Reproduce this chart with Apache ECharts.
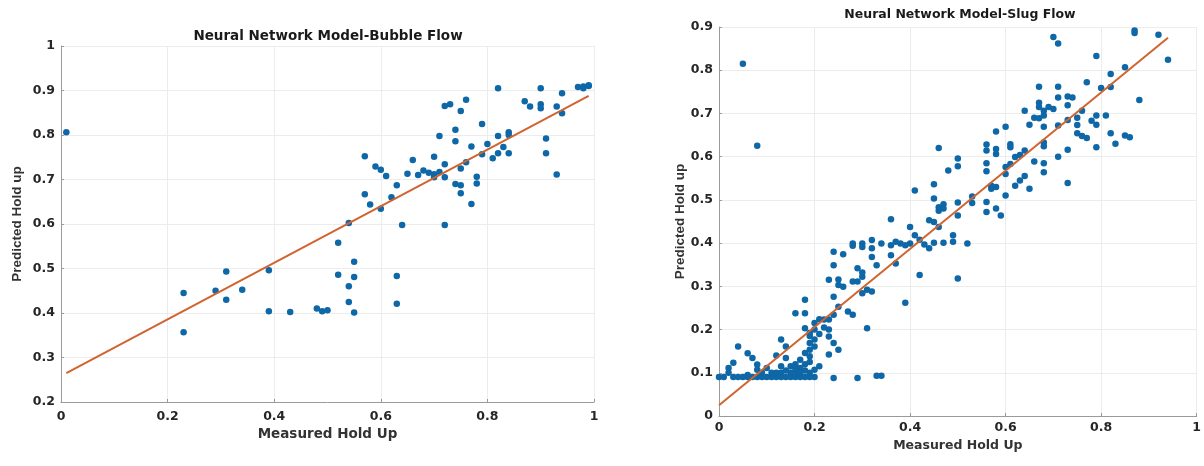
<!DOCTYPE html>
<html>
<head>
<meta charset="utf-8">
<title>Neural Network Model</title>
<script src="https://cdn.jsdelivr.net/npm/echarts@6/dist/echarts.min.js"></script>
<style>
  html, body { margin: 0; padding: 0; background: #fff; }
  #chart { width: 1204px; height: 466px; }
</style>
</head>
<body>
<div id="chart"></div>
<script>
// bubble flow: [measured, predicted]
var bubblePoints = [
  [0.01, 0.806], [0.23, 0.445], [0.23, 0.357], [0.29, 0.45], [0.31, 0.493], [0.31, 0.43],
  [0.34, 0.452], [0.39, 0.496], [0.39, 0.404], [0.43, 0.402], [0.48, 0.41], [0.49, 0.404],
  [0.50, 0.406], [0.52, 0.558], [0.52, 0.486], [0.54, 0.602], [0.54, 0.46], [0.54, 0.425],
  [0.55, 0.515], [0.55, 0.481], [0.55, 0.401], [0.57, 0.752], [0.57, 0.667], [0.58, 0.644],
  [0.59, 0.729], [0.60, 0.722], [0.60, 0.634], [0.61, 0.708], [0.62, 0.66], [0.63, 0.687],
  [0.63, 0.483], [0.63, 0.421], [0.64, 0.598], [0.65, 0.713], [0.66, 0.744], [0.67, 0.71],
  [0.68, 0.72], [0.69, 0.715], [0.70, 0.751], [0.70, 0.712], [0.70, 0.705], [0.71, 0.798],
  [0.71, 0.717], [0.72, 0.865], [0.73, 0.869], [0.72, 0.734], [0.72, 0.705], [0.72, 0.598],
  [0.74, 0.812], [0.74, 0.786], [0.74, 0.69], [0.75, 0.854], [0.75, 0.725], [0.75, 0.687],
  [0.75, 0.669], [0.76, 0.879], [0.76, 0.739], [0.77, 0.774], [0.77, 0.645], [0.78, 0.706],
  [0.78, 0.691], [0.79, 0.825], [0.79, 0.757], [0.80, 0.78], [0.81, 0.748], [0.82, 0.905],
  [0.82, 0.798], [0.82, 0.759], [0.83, 0.773], [0.84, 0.806], [0.84, 0.80], [0.84, 0.759],
  [0.87, 0.876], [0.88, 0.864], [0.90, 0.905], [0.90, 0.869], [0.90, 0.86], [0.91, 0.792],
  [0.91, 0.759], [0.93, 0.711], [0.93, 0.864], [0.94, 0.894], [0.94, 0.849], [0.97, 0.908],
  [0.98, 0.909], [0.98, 0.905], [0.99, 0.91], [0.99, 0.912]
]
var bubbleFit = [[0.01, 0.265], [0.99, 0.888]]

// slug flow: [measured, predicted]
var slugPoints = [
  [0.05, 0.815], [0.08, 0.625], [0.70, 0.877], [0.71, 0.862], [0.87, 0.892], [0.87, 0.886],
  [0.92, 0.882], [0.94, 0.824], [0.79, 0.833], [0.88, 0.731], [0.85, 0.807], [0.82, 0.791],
  [0.80, 0.759], [0.82, 0.761], [0.77, 0.772], [0.67, 0.762], [0.71, 0.762], [0.71, 0.737],
  [0.73, 0.739], [0.74, 0.737], [0.73, 0.719], [0.67, 0.725], [0.67, 0.715], [0.64, 0.706],
  [0.68, 0.706], [0.69, 0.715], [0.70, 0.71], [0.66, 0.69], [0.67, 0.689], [0.68, 0.695],
  [0.65, 0.674], [0.68, 0.669], [0.71, 0.672], [0.73, 0.685], [0.75, 0.69], [0.76, 0.706],
  [0.79, 0.695], [0.81, 0.695], [0.78, 0.683], [0.79, 0.674], [0.75, 0.673], [0.75, 0.654],
  [0.76, 0.648], [0.77, 0.643], [0.82, 0.654], [0.83, 0.63], [0.85, 0.649], [0.86, 0.645],
  [0.79, 0.622], [0.73, 0.616], [0.71, 0.60], [0.68, 0.633], [0.68, 0.624], [0.66, 0.589],
  [0.68, 0.585], [0.68, 0.564], [0.73, 0.539], [0.64, 0.614], [0.63, 0.604], [0.62, 0.599],
  [0.61, 0.622], [0.61, 0.629], [0.60, 0.669], [0.58, 0.658], [0.58, 0.618], [0.58, 0.606],
  [0.56, 0.614], [0.56, 0.628], [0.56, 0.585], [0.56, 0.566], [0.60, 0.576], [0.60, 0.56],
  [0.61, 0.583], [0.64, 0.555], [0.65, 0.526], [0.63, 0.545], [0.62, 0.533], [0.60, 0.51],
  [0.58, 0.53], [0.57, 0.533], [0.57, 0.526], [0.56, 0.495], [0.56, 0.472], [0.58, 0.48],
  [0.59, 0.464], [0.53, 0.508], [0.53, 0.493], [0.50, 0.596], [0.50, 0.578], [0.48, 0.568],
  [0.46, 0.62], [0.50, 0.494], [0.50, 0.464], [0.45, 0.536], [0.45, 0.503], [0.47, 0.49],
  [0.47, 0.48], [0.46, 0.483], [0.41, 0.522], [0.44, 0.453], [0.45, 0.449], [0.46, 0.437],
  [0.46, 0.475], [0.52, 0.399], [0.49, 0.418], [0.49, 0.403], [0.47, 0.401], [0.45, 0.401],
  [0.44, 0.388], [0.43, 0.397], [0.42, 0.408], [0.41, 0.418], [0.40, 0.437], [0.40, 0.399],
  [0.39, 0.395], [0.38, 0.399], [0.37, 0.403], [0.36, 0.395], [0.36, 0.455], [0.36, 0.372],
  [0.37, 0.353], [0.42, 0.326], [0.50, 0.318], [0.39, 0.262], [0.34, 0.399], [0.32, 0.407],
  [0.32, 0.388], [0.30, 0.391], [0.30, 0.399], [0.28, 0.399], [0.28, 0.394], [0.32, 0.368],
  [0.33, 0.349], [0.26, 0.374], [0.24, 0.38], [0.24, 0.349], [0.29, 0.342], [0.30, 0.322],
  [0.30, 0.332], [0.29, 0.311], [0.28, 0.311], [0.31, 0.292], [0.30, 0.284], [0.32, 0.288],
  [0.26, 0.299], [0.25, 0.316], [0.25, 0.303], [0.23, 0.315], [0.24, 0.276], [0.27, 0.242],
  [0.28, 0.234], [0.25, 0.253], [0.31, 0.203], [0.24, 0.234], [0.23, 0.223], [0.22, 0.223],
  [0.21, 0.224], [0.20, 0.215], [0.18, 0.203], [0.18, 0.269], [0.16, 0.238], [0.18, 0.238],
  [0.19, 0.192], [0.20, 0.177], [0.19, 0.153], [0.18, 0.146], [0.17, 0.13], [0.19, 0.138],
  [0.20, 0.161], [0.19, 0.169], [0.24, 0.169], [0.25, 0.153], [0.23, 0.142], [0.23, 0.184],
  [0.23, 0.20], [0.21, 0.115], [0.20, 0.107], [0.13, 0.177], [0.14, 0.161], [0.14, 0.134],
  [0.15, 0.115], [0.16, 0.107], [0.17, 0.111], [0.04, 0.161], [0.03, 0.123], [0.02, 0.111],
  [0.07, 0.134], [0.06, 0.145], [0.08, 0.119], [0.08, 0.107], [0.10, 0.111], [0.12, 0.10],
  [0.12, 0.14], [0.13, 0.115], [0.18, 0.12], [0.19, 0.125], [0.16, 0.12], [0.19, 0.185],
  [0.20, 0.2], [0.21, 0.19], [0.22, 0.205], [0.00, 0.09], [0.01, 0.09], [0.03, 0.09],
  [0.04, 0.09], [0.05, 0.09], [0.06, 0.09], [0.07, 0.09], [0.08, 0.09], [0.09, 0.09],
  [0.10, 0.09], [0.11, 0.09], [0.12, 0.09], [0.13, 0.09], [0.14, 0.09], [0.15, 0.09],
  [0.16, 0.09], [0.17, 0.09], [0.18, 0.09], [0.19, 0.09], [0.20, 0.09], [0.24, 0.088],
  [0.29, 0.088], [0.33, 0.093], [0.34, 0.093], [0.02, 0.10], [0.06, 0.095], [0.09, 0.10],
  [0.11, 0.10], [0.13, 0.10], [0.15, 0.10], [0.17, 0.10], [0.19, 0.10], [0.12, 0.095],
  [0.16, 0.095], [0.14, 0.105], [0.18, 0.105]
]
var slugFit = [[0.0, 0.025], [0.94, 0.875]]

var dotColor = '#0e67a6'
var lineColor = '#d0642f'
var wideFont = '"DejaVu Sans", Verdana, sans-serif'
var narrowFont = '"Liberation Sans", Arial, sans-serif'

function valueAxis(grid, min, max, step, name, gap, nameFont, nameSize, labelMargin) {
  return {
    type: 'value',
    gridIndex: grid,
    min: min,
    max: max,
    interval: step,
    name: name,
    nameLocation: 'middle',
    nameGap: gap,
    nameTextStyle: { fontFamily: nameFont, fontWeight: 'bold', fontSize: nameSize, color: '#333' },
    axisLine: { show: true, lineStyle: { color: '#9a9a9a', width: 1 } },
    axisTick: { show: true, inside: true, length: 3, lineStyle: { color: '#9a9a9a' } },
    axisLabel: { fontFamily: wideFont, fontWeight: 'bold', fontSize: 12.5, color: '#262626', margin: labelMargin },
    splitLine: { show: true, lineStyle: { color: '#ececec', width: 1 } }
  }
}

var chart = echarts.init(document.getElementById('chart'))

chart.setOption({
  backgroundColor: '#fff',
  animation: false,
  graphic: [
    {
      type: 'text', x: 328, y: 29,
      style: { text: 'Neural Network Model-Bubble Flow', textAlign: 'center', fill: '#1a1a1a',
        font: 'bold 13.5px "DejaVu Sans", Verdana, sans-serif' }
    },
    {
      type: 'text', x: 960, y: 8,
      style: { text: 'Neural Network Model-Slug Flow', textAlign: 'center', fill: '#1a1a1a',
        font: 'bold 12.5px "DejaVu Sans", Verdana, sans-serif' }
    }
  ],
  grid: [
    { left: 61, right: 610, top: 46, bottom: 64 },
    { left: 719, right: 1, top: 27, bottom: 50 }
  ],
  xAxis: [
    valueAxis(0, 0, 1, 0.2, 'Measured Hold Up', 25, wideFont, 13.5, 8),
    valueAxis(1, 0, 1, 0.2, 'Measured Hold Up', 22, wideFont, 12.5, 5)
  ],
  yAxis: [
    valueAxis(0, 0.2, 1, 0.1, 'Predicted Hold up', 37, narrowFont, 13.5, 6),
    valueAxis(1, 0, 0.9, 0.1, 'Predicted Hold up', 32, narrowFont, 13.5, 6)
  ],
  series: [
    {
      type: 'scatter', xAxisIndex: 0, yAxisIndex: 0,
      data: bubblePoints, symbolSize: 6.5,
      itemStyle: { color: dotColor, opacity: 1 }
    },
    {
      type: 'line', xAxisIndex: 0, yAxisIndex: 0,
      data: bubbleFit, showSymbol: false,
      lineStyle: { color: lineColor, width: 2 }
    },
    {
      type: 'scatter', xAxisIndex: 1, yAxisIndex: 1,
      data: slugPoints, symbolSize: 6.5,
      itemStyle: { color: dotColor, opacity: 1 }
    },
    {
      type: 'line', xAxisIndex: 1, yAxisIndex: 1,
      data: slugFit, showSymbol: false,
      lineStyle: { color: lineColor, width: 2 }
    }
  ]
})
</script>
</body>
</html>
